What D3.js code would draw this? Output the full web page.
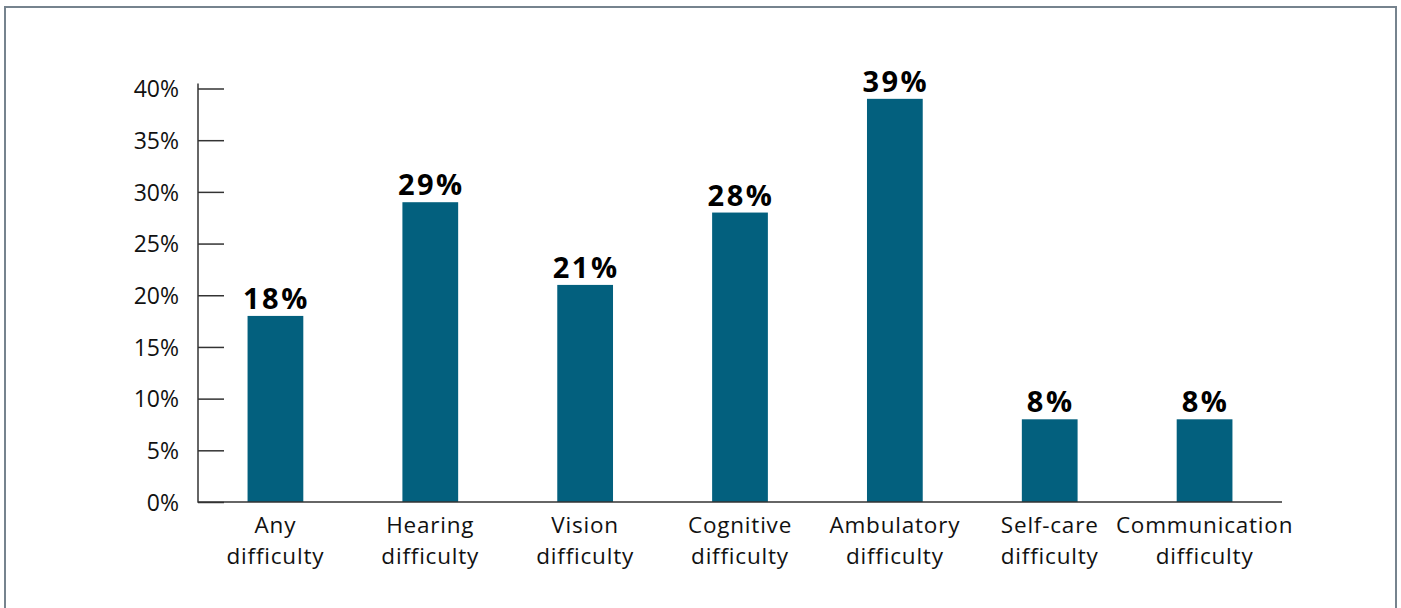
<!DOCTYPE html>
<html>
<head>
<meta charset="utf-8">
<script src="https://cdn.jsdelivr.net/npm/d3@7"></script>
<style>
  html, body { margin: 0; padding: 0; background: #fff; }
  svg { display: block; font-family: "Segoe UI", "Open Sans", "Noto Sans", sans-serif; }
</style>
</head>
<body>
<svg id="chart" width="1401" height="608"></svg>
<script>
// Share of people reporting each type of difficulty
const categories = [
  ["Any", "difficulty"],
  ["Hearing", "difficulty"],
  ["Vision", "difficulty"],
  ["Cognitive", "difficulty"],
  ["Ambulatory", "difficulty"],
  ["Self-care", "difficulty"],
  ["Communication", "difficulty"]
];
const values = [18, 29, 21, 28, 39, 8, 8];
const yTicks = [0, 5, 10, 15, 20, 25, 30, 35, 40];

const svg = d3.select("#chart");
const W = 1401, H = 608;

// outer frame
svg.append("rect")
  .attr("x", 5).attr("y", 7)
  .attr("width", 1391).attr("height", H + 10)
  .attr("fill", "none")
  .attr("stroke", "#76838e")
  .attr("stroke-width", 2);

const plotLeft = 198, plotRight = 1282, plotTop = 88.5, plotBottom = 502;

const x = d3.scaleBand()
  .domain(categories.map((d, i) => i))
  .range([plotLeft, plotRight])
  .paddingInner(0.64)
  .paddingOuter(0.32);

const y = d3.scaleLinear().domain([0, 40]).range([plotBottom, plotTop]);

// bars
svg.append("g").selectAll("rect")
  .data(values)
  .join("rect")
  .attr("x", (d, i) => x(i))
  .attr("y", d => y(d))
  .attr("width", x.bandwidth())
  .attr("height", d => y(0) - y(d))
  .attr("fill", "#03607e");

// value labels
svg.append("g").selectAll("text")
  .data(values)
  .join("text")
  .attr("x", (d, i) => x(i) + x.bandwidth() / 2 + 1)
  .attr("y", d => y(d) - 7)
  .attr("text-anchor", "middle")
  .attr("font-size", 29)
  .attr("font-weight", 700)
  .attr("letter-spacing", 2.5)
  .attr("fill", "#000")
  .text(d => d + "%");

// y axis: ticks drawn inward, labels to the left
const yAxis = d3.axisRight(y)
  .tickValues(yTicks)
  .tickSize(26)
  .tickFormat(d => d + "%");

const gy = svg.append("g")
  .attr("transform", `translate(${plotLeft},0)`)
  .call(yAxis);
gy.select(".domain").remove();
gy.selectAll(".tick line").attr("stroke", "#333").attr("stroke-width", 1.5);
gy.selectAll(".tick text")
  .attr("x", -19)
  .attr("dy", "0.36em")
  .attr("text-anchor", "end")
  .attr("font-size", 23)
  .attr("font-family", "\"Segoe UI\", \"Open Sans\", \"Noto Sans\", sans-serif")
  .attr("fill", "#111");

// axis lines
svg.append("line")
  .attr("x1", plotLeft).attr("x2", plotLeft)
  .attr("y1", plotTop - 5).attr("y2", plotBottom + 0.75)
  .attr("stroke", "#333").attr("stroke-width", 1.5);
svg.append("line")
  .attr("x1", plotLeft).attr("x2", plotRight)
  .attr("y1", plotBottom).attr("y2", plotBottom)
  .attr("stroke", "#333").attr("stroke-width", 1.5);

// category labels, two lines each
const cat = svg.append("g").selectAll("text")
  .data(categories)
  .join("text")
  .attr("text-anchor", "middle")
  .attr("font-size", 22.5)
  .attr("letter-spacing", 0.8)
  .attr("fill", "#111");
cat.each(function(d, i) {
  const t = d3.select(this);
  const cx = x(i) + x.bandwidth() / 2;
  d.forEach((line, k) => {
    t.append("tspan")
      .attr("x", cx)
      .attr("y", 533 + k * 31)
      .text(line);
  });
});
</script>
</body>
</html>
